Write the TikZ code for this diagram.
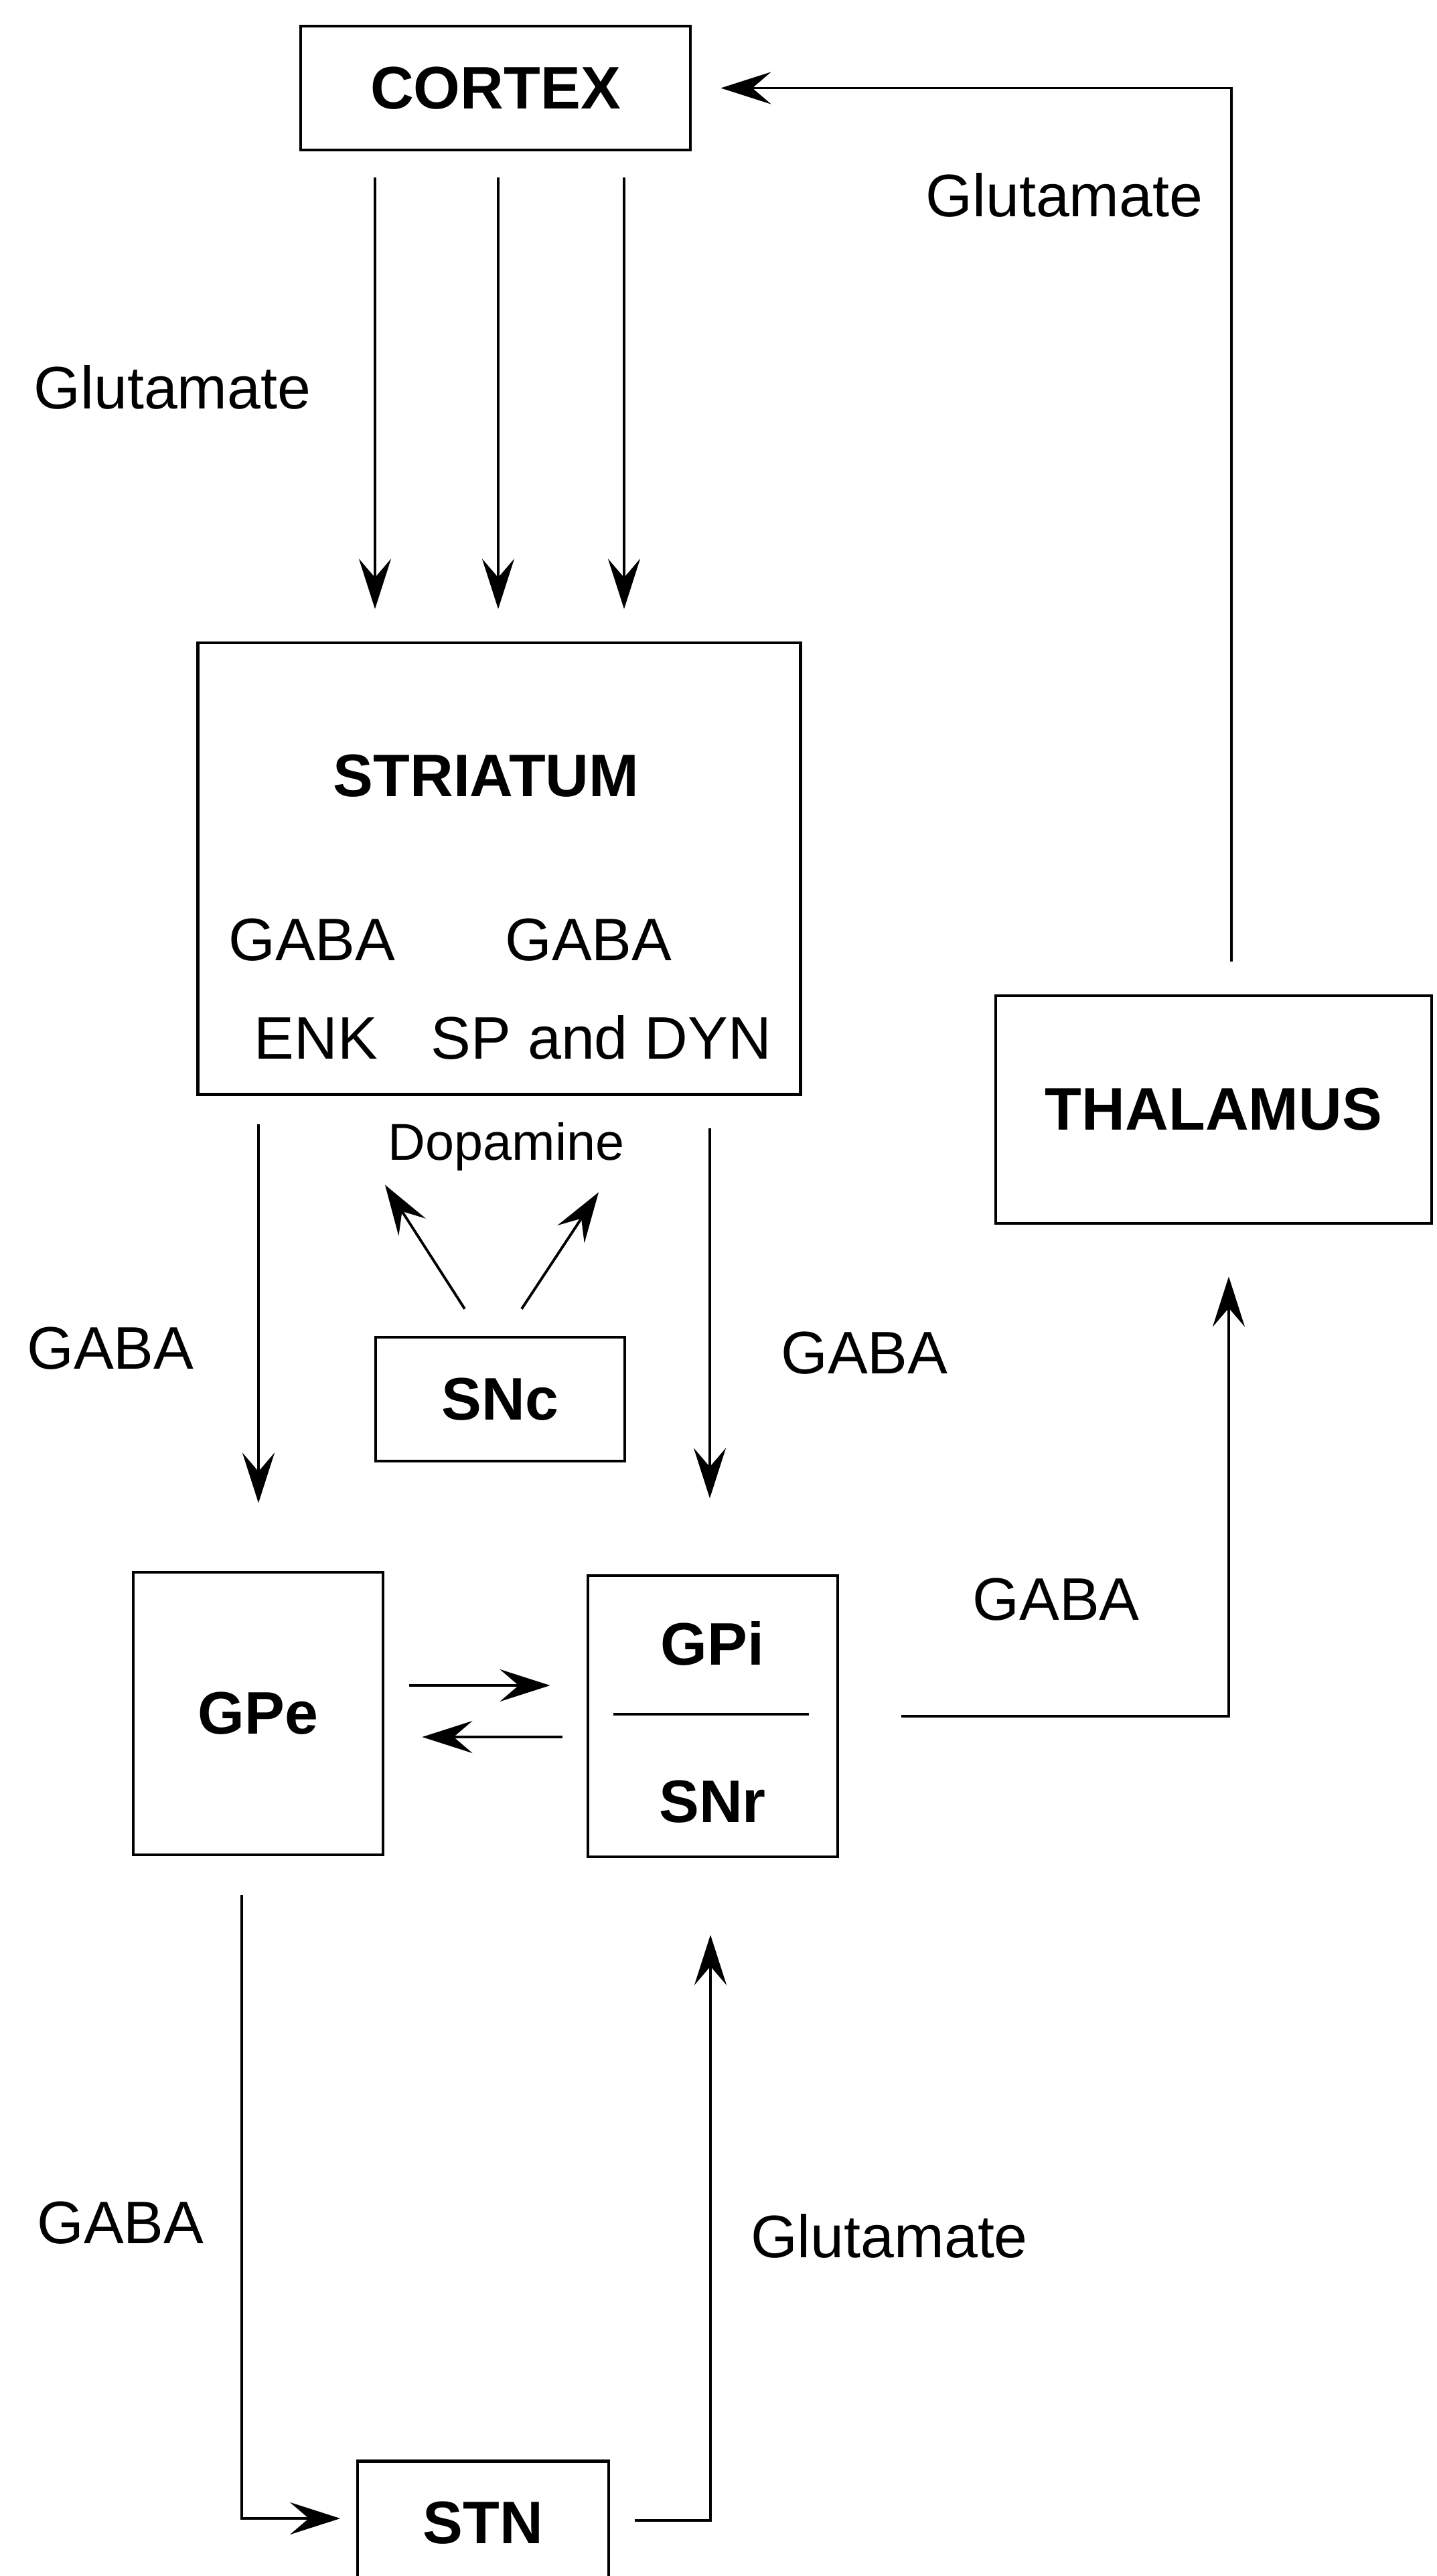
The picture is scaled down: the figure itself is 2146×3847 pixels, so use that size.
\documentclass[tikz,border=0pt]{standalone}
\usepackage{fontspec}
\setmainfont{Liberation Sans}
\usetikzlibrary{arrows.meta,calc}
\begin{document}
\begin{tikzpicture}[x=0.01cm,y=-0.01cm]
\tikzset{
  box/.style={draw, line width=1.3pt, inner sep=0pt, font=\bfseries\fontsize{25.5}{30}\selectfont},
  lbl/.style={font=\fontsize{25.5}{30}\selectfont, anchor=base, inner sep=0pt},
  blbl/.style={font=\bfseries\fontsize{25.5}{30}\selectfont, anchor=base, inner sep=0pt},
  arr/.style={line width=1.1pt, -{Stealth[length=0.75cm,width=0.48cm,inset=0.28cm]}},
}
\useasboundingbox (0,0) rectangle (2146,3847);
% boxes
\node[box, minimum width=5.82cm, minimum height=1.85cm] (cortex) at (740,131.5) {CORTEX};
\node[box, minimum width=8.99cm, minimum height=6.74cm] (striatum) at (745.5,1297) {};
\node[blbl] (stri) at (726,1189) {STRIATUM};
\node[lbl] (g1) at (466,1434) {GABA};
\node[lbl] (g2) at (879,1434) {GABA};
\node[lbl] (enk) at (472,1581) {ENK};
\node[lbl] (spd) at (898,1581) {SP and DYN};
\node[box, minimum width=6.51cm, minimum height=3.40cm] (thal) at (1812.5,1657) {THALAMUS};
\node[box, minimum width=3.72cm, minimum height=1.85cm] (snc) at (747,2089.5) {SNc};
\node[box, minimum width=3.73cm, minimum height=4.22cm] (gpe) at (385.5,2559) {GPe};
\node[box, minimum width=3.73cm, minimum height=4.20cm] (gpi) at (1064.5,2563) {};
\node[blbl] (gpit) at (1064,2486) {GPi};
\node[blbl] (snrt) at (1064,2721) {SNr};
\draw[line width=1.3pt] ($(gpi.west)+(40,-3)$) -- ($(gpi.east)+(-45,-3)$);
\node[inner sep=0pt, minimum width=3.73cm, minimum height=1.84cm, font=\bfseries\fontsize{25.5}{30}\selectfont] (stn) at (721.5,3768) {STN};
\draw[line width=1.3pt] (stn.north west |- 0,3847) -- (stn.north west) -- (stn.north east) -- (stn.north east |- 0,3847);
% labels
\node[lbl] (glL) at (257.5,610) {Glutamate};
\node[lbl] (glR) at (1589.5,323) {Glutamate};
\node[lbl] (gabaL) at (165,2044) {GABA};
\node[lbl] (gabaR) at (1291,2051) {GABA};
\node[lbl] (gabaT) at (1577,2419) {GABA};
\node[lbl] (gabaB) at (180,3350) {GABA};
\node[lbl] (glB) at (1328,3371) {Glutamate};
\node[lbl, font=\fontsize{22}{26}\selectfont] (dopa) at (756,1732) {Dopamine};
% connectors
\foreach \x in {560,744,932}
  \draw[arr, shorten <=0.39cm, shorten >=0.48cm] (cortex.south -| \x,0) -- (striatum.north -| \x,0);
\draw[arr, shorten <=0.49cm, shorten >=0.43cm] (thal.north -| 1839,0) |- (cortex.east);
\draw[arr, shorten <=0.42cm, shorten >=1.01cm] (striatum.south -| 386,0) -- (gpe.north -| 386,0);
\draw[arr, shorten <=0.48cm, shorten >=1.13cm] (striatum.south -| 1060,0) -- (gpi.north -| 1060,0);
\draw[arr] ($(snc.north -| 694,0)+(0,-40)$) -- ($(striatum.south -| 575,0)+(0,133)$);
\draw[arr] ($(snc.north -| 779,0)+(0,-40)$) -- ($(striatum.south -| 894,0)+(0,144)$);
\draw[arr, shorten <=0.37cm, shorten >=0.54cm] (gpe.east |- 0,2517) -- (gpi.west |- 0,2517);
\draw[arr, shorten <=0.36cm, shorten >=0.56cm] (gpi.west |- 0,2594) -- (gpe.east |- 0,2594);
\draw[arr, shorten <=0.93cm, shorten >=0.77cm] (gpi.east) -| (thal.south -| 1835,0);
\draw[arr, shorten <=0.58cm, shorten >=0.26cm] (gpe.south -| 361,0) |- (stn.west |- 0,3761);
\draw[arr, shorten <=0.39cm, shorten >=1.14cm] (stn.east |- 0,3764) -| (gpi.south -| 1061,0);
\end{tikzpicture}
\end{document}
